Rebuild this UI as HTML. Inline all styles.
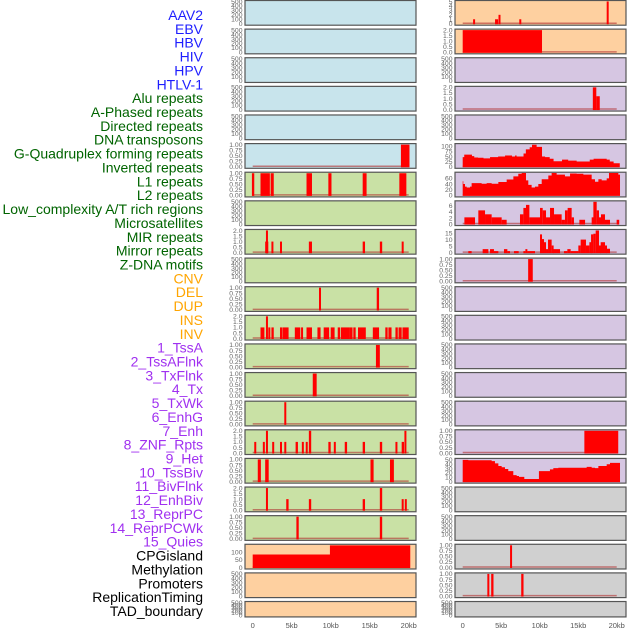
<!DOCTYPE html>
<html><head><meta charset="utf-8">
<style>
html,body{margin:0;padding:0;background:#fff;width:630px;height:630px;overflow:hidden}
svg text{font-family:"Liberation Sans",sans-serif}
</style></head>
<body>
<svg id="chart" width="630" height="630" viewBox="0 0 630 630" xmlns="http://www.w3.org/2000/svg"></svg>
<script>
// ---- data ----
const trackLabels = ["AAV2","EBV","HBV","HIV","HPV","HTLV-1","Alu repeats","A-Phased repeats","Directed repeats","DNA transposons","G-Quadruplex forming repeats","Inverted repeats","L1 repeats","L2 repeats","Low_complexity A/T rich regions","Microsatellites","MIR repeats","Mirror repeats","Z-DNA motifs","CNV","DEL","DUP","INS","INV","1_TssA","2_TssAFlnk","3_TxFlnk","4_Tx","5_TxWk","6_EnhG","7_Enh","8_ZNF_Rpts","9_Het","10_TssBiv","11_BivFlnk","12_EnhBiv","13_ReprPC","14_ReprPCWk","15_Quies","CPGisland","Methylation","Promoters","ReplicationTiming","TAD_boundary"];
const labelGroups = ["virus","virus","virus","virus","virus","virus","repeat","repeat","repeat","repeat","repeat","repeat","repeat","repeat","repeat","repeat","repeat","repeat","repeat","sv","sv","sv","sv","sv","chromhmm","chromhmm","chromhmm","chromhmm","chromhmm","chromhmm","chromhmm","chromhmm","chromhmm","chromhmm","chromhmm","chromhmm","chromhmm","chromhmm","chromhmm","other","other","other","other","other"];
const xTickValues = [0,5,10,15,20];
const xTickLabels = ["0","5kb","10kb","15kb","20kb"];

const ticksEmpty = [0,100,200,300,400,500];
const ticksOne = [0,0.25,0.5,0.75,1];
const ticksTwo = [0,0.5,1,1.5,2];

// left column bar tracks [startKb, endKb, value]
const L5 = [[19.0,20.1,1]];
const L6 = [[-0.1,0.2,1],[1.0,2.2,1],[2.3,2.7,1],[6.9,7.6,1],[9.7,10.1,1],[14.1,14.6,1],[18.8,19.7,1]];
const L8 = [[1.7,1.9,2],[1.6,2.0,1],[2.4,2.6,1],[3.5,3.7,1],[7.2,7.6,1],[14.1,14.4,1],[16.3,16.6,1],[19.1,19.3,1]];
const L10 = [[8.5,8.7,1],[15.9,16.2,1]];
const L11 = [[1.0,1.5,1],[1.7,1.9,2],[2.0,2.2,1],[2.4,2.7,1],[3.5,3.7,1],[3.8,4.6,1],[5.4,6.1,1],[6.2,6.4,1],[6.9,7.6,1],[8.3,8.7,1],[9.1,9.8,1],[10.0,10.5,1],[10.9,11.2,1],[11.3,12.4,1],[12.4,12.8,1],[12.9,13.2,1],[13.5,14.5,1],[15.4,16.2,1],[17.0,17.3,1],[17.4,17.8,1],[18.3,18.6,1],[18.7,19.1,1],[19.2,20.0,1]];
const L12 = [[15.8,16.3,1]];
const L13 = [[7.7,8.2,1]];
const L14 = [[4.05,4.3,1]];
const L15 = [[0.2,0.35,1],[1.3,1.5,1],[1.7,1.9,2],[2.5,2.65,1],[3.5,3.7,1],[4.05,4.3,1],[5.5,5.8,1],[6.3,6.5,1],[6.8,7.0,1],[7.2,7.5,2],[9.7,10.0,1],[10.4,10.6,1],[11.8,12.1,1],[14.1,14.4,1],[16.3,16.6,1],[18.3,18.5,1],[19.1,19.4,1],[19.45,19.7,2]];
const L16 = [[0.65,1.05,1],[1.6,2.05,1],[15.1,15.5,1],[17.6,18.1,1]];
const L17 = [[1.7,1.9,2],[4.3,4.6,1],[7.2,7.5,1],[14.1,14.4,1],[16.3,16.6,2],[19.1,19.3,1],[19.5,19.7,1]];
const L18 = [[5.6,5.9,1],[16.3,16.6,1]];
const L19Edges = [0,9.9,20.2];
const L19Values = [85,144];

// right column
const R0 = [[1.35,1.55,1],[4.2,4.6,1],[4.65,4.9,2],[7.35,7.6,1],[18.7,18.9,5]];
const R1 = [[0,10.3,2]];
const R3 = [[16.9,17.35,2],[17.35,17.8,1.2]];
const R5Edges = [0,0.2,1.2,1.5,2.0,2.7,3.55,4.6,5.5,6.4,6.8,7.0,7.9,8.2,8.7,9.0,9.6,10.3,10.7,11.3,11.8,12.9,13.7,14.8,16.5,17.0,18.7,19.1,19.6,20.4];
const R5Values = [47,59,52,45,44,41,47,50,55,50,55,50,65,85,95,107,97,50,47,39,27,35,30,26,35,39,35,26,17];
const R6Edges = [0,0.08,0.30,0.52,0.95,1.16,2.46,3.11,3.76,4.63,5.71,6.58,7.22,7.66,8.22,8.52,8.95,9.39,9.82,10.26,11.12,11.55,12.20,13.28,13.94,14.80,15.67,16.75,17.18,17.62,18.05,18.70,19.00,20.21,20.43];
const R6Values = [50,40,31,28,31,43,41,43,41,47,56,67,76,79,53,37,28,31,40,57,70,79,73,67,77,76,73,57,48,57,53,60,79,73];
const R7 = [[0.22,1.60,2.2],[2.03,2.90,4.5],[2.90,3.76,3.2],[3.76,5.06,2.2],[5.06,5.71,1.4],[7.44,7.88,3.2],[7.88,8.22,5.3],[8.22,8.66,6.3],[8.66,10.04,2.2],[10.04,10.39,5.3],[10.39,10.82,4.5],[10.82,11.34,2.2],[11.34,11.86,5.3],[11.86,12.85,3.2],[12.85,13.28,1.4],[13.28,13.63,4.5],[13.63,14.15,5.3],[14.15,14.45,2.2],[15.15,15.89,1.4],[16.75,16.97,2.2],[16.97,17.40,7.3],[17.40,17.70,4.5],[17.70,17.96,2.2],[17.96,18.48,3.2],[18.48,19.13,1.4],[19.99,20.33,1.4]];
const R8 = [[0.73,1.16,1.2],[2.59,3.33,2.7],[3.55,4.06,2.7],[4.06,4.63,1.2],[5.36,5.80,2.7],[5.80,6.14,1.2],[6.66,7.27,1.2],[7.88,8.14,1.2],[8.14,8.39,2.7],[8.39,9.39,1.2],[10.04,10.30,14],[10.30,10.56,10.4],[10.56,10.82,8],[10.82,11.08,2.7],[11.08,11.55,10],[11.55,11.77,5.5],[11.77,12.64,2.7],[13.15,13.59,1.2],[13.59,14.02,2.7],[14.02,15.02,1.2],[15.02,15.32,5.5],[15.32,16.01,10],[16.01,16.45,5.5],[16.45,16.67,8],[16.67,16.97,14],[16.97,17.27,14.5],[17.27,17.70,17],[17.70,17.92,5.5],[17.92,18.48,8],[18.48,18.70,5.5],[18.70,19.13,3]];
const R9 = [[8.5,9.1,1]];
const R15 = [[15.8,20.2,1]];
const R16Edges = [0,0.73,3.76,4.19,4.63,5.06,5.49,5.92,6.57,7.01,7.31,8.00,9.90,11.33,11.77,12.42,16.10,16.75,17.18,17.62,18.70,19.13,20.43];
const R16Values = [50,49,47,42,36,33,29,24,15,13,11,6,24,28,31,32,34,32,31,36,40,43];
const R19 = [[6.15,6.3,1]];
const R20 = [[3.2,3.4,1],[3.7,4.0,1],[7.6,7.9,1]];

// ---- rendering ----
const NS = "http://www.w3.org/2000/svg";
const svg = document.getElementById('chart');
const colors = {virus:"#1e1eff",repeat:"#006400",sv:"#ffa500",chromhmm:"#a030f0",other:"#000000"};
const bgs = {blue:"#c8e4ec",green:"#c9e1a5",orange:"#fed0a0",purple:"#d6c6e2",grey:"#d0d0d0"};
function mk(tag, attrs, parent){const e=document.createElementNS(NS,tag);for(const k in attrs)e.setAttribute(k,attrs[k]);(parent||svg).appendChild(e);return e;}

trackLabels.forEach((t,i)=>{
  const e=mk('text',{x:203,y:(15+13.86*i+5).toFixed(1),'text-anchor':'end','font-size':'14',fill:colors[labelGroups[i]]});
  e.textContent=t;
  
  
});

const cols = {
  L:{x0:245,x1:416,zero:252.7,kbPx:7.8,tickX:242.5},
  R:{x0:455,x1:626,zero:462.7,kbPx:7.7,tickX:452.5}
};
function rowTop(r){return 0.5+28.62*r;}
function rowH(r){return r===21?15.4:24.7;}

function panel(side,row,bg,ymax,ticks,digits,bars,edges,values){
  const c=cols[side];const top=rowTop(row);const h=rowH(row);
  const g=mk('g',{});
  
  
  mk('rect',{x:c.x0,y:top,width:c.x1-c.x0,height:h,fill:bgs[bg]},g);
  const yb=top+h-1.5, yt=top+1;
  const ys=v=>yb-(v/ymax)*(yb-yt);
  const xs=k=>c.zero+k*c.kbPx;
  ticks.forEach(v=>{
    const t=mk('text',{x:c.tickX,y:(ys(v)+2.3).toFixed(1),'text-anchor':'end','font-size':'6.8',fill:'#666'},g);
    t.textContent=v.toFixed(digits);
    
    
  });
  if(bars||edges){
    const bl=mk('line',{x1:xs(0),x2:xs(20),y1:yb-0.5,y2:yb-0.5,stroke:'#b03030','stroke-opacity':'0.6','stroke-width':'1.5'},g);
    
    
  }
  if(bars){
    bars.forEach(b=>{
      const x=xs(b[0]),w=Math.max(2,xs(b[1])-x),y=ys(b[2]);
      const r=mk('rect',{x:x.toFixed(2),y:y.toFixed(2),width:w.toFixed(2),height:(yb-y+0.5).toFixed(2),fill:'#ff0000'},g);
      
      
    });
  }
  if(edges){
    let d='M'+xs(edges[0]).toFixed(2)+','+(yb+0.5);
    values.forEach((v,i)=>{d+=' L'+xs(edges[i]).toFixed(2)+','+ys(v).toFixed(2)+' L'+xs(edges[i+1]).toFixed(2)+','+ys(v).toFixed(2);});
    d+=' L'+xs(edges[edges.length-1]).toFixed(2)+','+(yb+0.5)+' Z';
    const p=mk('path',{d:d,fill:'#ff0000'},g);
    
    
  }
  mk('rect',{x:c.x0,y:top,width:c.x1-c.x0,height:h,fill:'none',stroke:'#555','stroke-width':'1.2'},g);
}

for(let r=0;r<22;r++){
  const bg = r<=5?'blue':(r<=18?'green':'orange');
  const map={5:L5,6:L6,8:L8,10:L10,11:L11,12:L12,13:L13,14:L14,15:L15,16:L16,17:L17,18:L18};
  if(r===19){panel('L',19,bg,145,[0,50,100],0,null,L19Edges,L19Values);continue;}
  const b=map[r];
  if(!b){panel('L',r,bg,500,ticksEmpty,0,null);continue;}
  const mx=Math.max(...b.map(x=>x[2]));
  if(mx>1) panel('L',r,bg,2,ticksTwo,1,b); else panel('L',r,bg,1,ticksOne,2,b);
}
for(let r=0;r<22;r++){
  const bg = r<=1?'orange':(r<=16?'purple':'grey');
  if(r===0){panel('R',0,bg,5,[0,1,2,3,4,5],0,R0);continue;}
  if(r===1){panel('R',1,bg,2,ticksTwo,1,R1);continue;}
  if(r===3){panel('R',3,bg,2,ticksTwo,1,R3);continue;}
  if(r===5){panel('R',5,bg,108,[0,25,50,75,100],0,null,R5Edges,R5Values);continue;}
  if(r===6){panel('R',6,bg,78,[0,20,40,60],0,null,R6Edges,R6Values);continue;}
  if(r===7){panel('R',7,bg,7.3,[0,2,4,6],0,R7);continue;}
  if(r===8){panel('R',8,bg,17,[0,5,10,15],0,R8);continue;}
  if(r===9){panel('R',9,bg,1,ticksOne,2,R9);continue;}
  if(r===15){panel('R',15,bg,1,ticksOne,2,R15);continue;}
  if(r===16){panel('R',16,bg,51,[0,10,20,30,40,50],0,null,R16Edges,R16Values);continue;}
  if(r===19){panel('R',19,bg,1,ticksOne,2,R19);continue;}
  if(r===20){panel('R',20,bg,1,ticksOne,2,R20);continue;}
  panel('R',r,bg,500,ticksEmpty,0,null);
}
['L','R'].forEach(s=>{
  const c=cols[s];
  xTickValues.forEach((v,i)=>{
    const t=mk('text',{x:(c.zero+v*c.kbPx).toFixed(1),y:628,'text-anchor':'middle','font-size':'7.5',fill:'#555'});
    t.textContent=xTickLabels[i];
    
    
  });
});
</script>
</body></html>
